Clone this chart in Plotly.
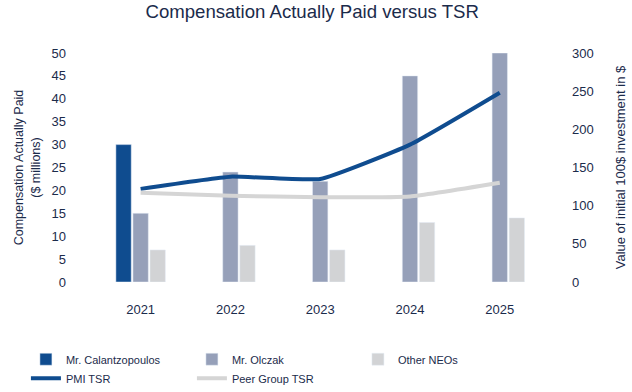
import plotly.graph_objects as go

years = ["2021", "2022", "2023", "2024", "2025"]
calantzopoulos = [30, None, None, None, None]
olczak = [15, 24, 22, 45, 50]
other_neos = [7, 8, 7, 13, 14]
pmi_tsr = [122, 138, 135, 180, 248]
peer_tsr = [117, 113, 111, 112, 130]

navy = "#1b2b4b"
c_blue = "#0f4c8f"
c_olczak = "#96a0b9"
c_other = "#d2d3d5"
c_peer = "#d5d5d5"

fig = go.Figure()
fig.add_trace(go.Bar(x=years, y=calantzopoulos, name="Mr. Calantzopoulos", marker_color=c_blue, yaxis="y"))
fig.add_trace(go.Bar(x=years, y=olczak, name="Mr. Olczak", marker_color=c_olczak, yaxis="y"))
fig.add_trace(go.Bar(x=years, y=other_neos, name="Other NEOs", marker_color=c_other, yaxis="y"))
fig.add_trace(go.Scatter(x=years, y=pmi_tsr, name="PMI TSR", mode="lines",
                         line=dict(color=c_blue, width=4, shape="spline", smoothing=0.4), yaxis="y2"))
fig.add_trace(go.Scatter(x=years, y=peer_tsr, name="Peer Group TSR", mode="lines",
                         line=dict(color=c_peer, width=4, shape="spline", smoothing=0.4), yaxis="y2"))

font = "Liberation Sans, Arial, sans-serif"
fig.update_layout(
    width=632, height=392,
    paper_bgcolor="white", plot_bgcolor="white",
    font=dict(family=font, size=13, color=navy),
    title=dict(text="Compensation Actually Paid versus TSR", x=0.494, xanchor="center",
               y=0.97, yanchor="middle", font=dict(size=18.6, color=navy)),
    margin=dict(l=67, r=64, t=53, b=110, autoexpand=False),
    barmode="group", bargap=0.43, bargroupgap=0.1,
    xaxis=dict(range=[-0.82, 4.76], showgrid=False, zeroline=False, showline=False,
               ticks="outside", ticklen=15, tickcolor="rgba(0,0,0,0)",
               tickfont=dict(size=13, color=navy), automargin=False),
    yaxis=dict(range=[0, 50], dtick=5, showgrid=False, zeroline=False, showline=False,
               tickfont=dict(size=13, color=navy), automargin=False,
               title=dict(text="Compensation Actually Paid<br>($ millions)", font=dict(size=12.5, color=navy), standoff=8)),
    yaxis2=dict(range=[0, 300], dtick=50, overlaying="y", side="right", showgrid=False,
                zeroline=False, showline=False, tickfont=dict(size=13, color=navy), automargin=False,
                ticklabelstandoff=3,
                title=dict(text="Value of initial 100$ investment in $", font=dict(size=13, color=navy), standoff=23)),
    legend=dict(orientation="h", x=-0.082, xanchor="left", y=-0.274, yanchor="top",
                entrywidth=121, traceorder="normal", font=dict(size=11, color=navy),
                itemwidth=30, tracegroupgap=0),
    showlegend=True,
)

fig.write_html("out.html", config={"displayModeBar": False},
               post_script="document.body.style.margin='0';")
